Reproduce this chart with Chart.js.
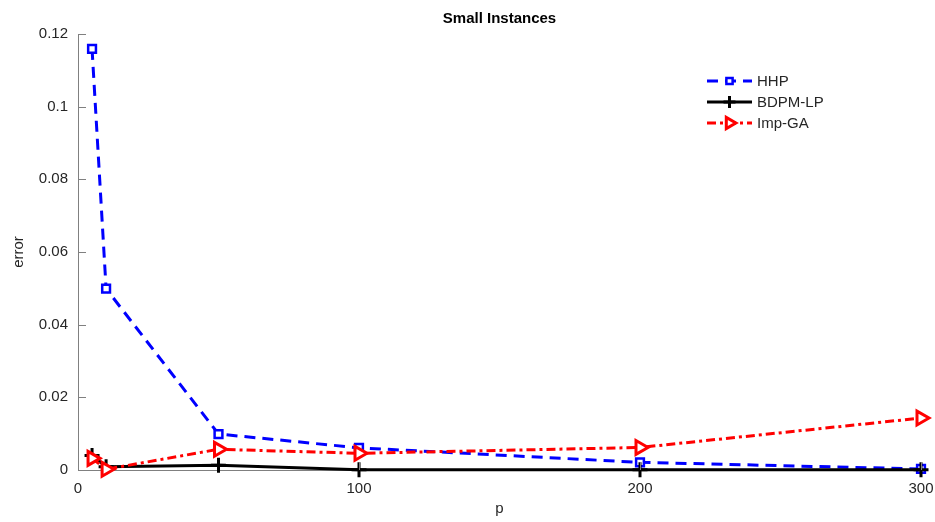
<!DOCTYPE html>
<html>
<head>
<meta charset="utf-8">
<script src="https://cdn.jsdelivr.net/npm/chart.js@4.4.1/dist/chart.umd.min.js"></script>
<style>
  html, body { margin: 0; padding: 0; background: #fff; }
  #chart { display: block; }
</style>
</head>
<body>
<canvas id="chart" width="935" height="522"></canvas>
<script>
// values
const pValues = [5, 10, 50, 100, 200, 300];
const hhpError = [0.1159, 0.0499, 0.0099, 0.0061, 0.0021, 0.0003];
const bdpmError = [0.0040, 0.0009, 0.0013, 0.0001, 0.0001, 0.0001];
const impGaError = [0.0032, 0.0002, 0.0057, 0.0046, 0.0062, 0.0143];
const xTicks = [0, 100, 200, 300];
const yTicks = [0, 0.02, 0.04, 0.06, 0.08, 0.1, 0.12];

const FONT = 'Liberation Sans, Arial, Helvetica, sans-serif';
const AXIS = '#808080';
const TEXT = '#262626';

const toPoints = (ys) => pValues.map((x, i) => ({ x, y: ys[i] }));

// MATLAB style: inward ticks, title, legend with line + marker
const matlabBits = {
  id: 'matlabBits',
  afterDraw(chart) {
    const { ctx, chartArea: a, scales } = chart;
    ctx.save();
    ctx.strokeStyle = AXIS;
    ctx.lineWidth = 1;
    ctx.beginPath();
    xTicks.forEach((t) => {
      const px = Math.round(scales.x.getPixelForValue(t)) + 0.5;
      ctx.moveTo(px, a.bottom); ctx.lineTo(px, a.bottom - 8);
    });
    yTicks.forEach((t) => {
      const py = Math.round(scales.y.getPixelForValue(t)) + 0.5;
      ctx.moveTo(a.left, py); ctx.lineTo(a.left + 8, py);
    });
    ctx.stroke();

    ctx.fillStyle = '#000';
    ctx.font = 'bold 15px ' + FONT;
    ctx.textAlign = 'center';
    ctx.textBaseline = 'middle';
    ctx.fillText('Small Instances', (a.left + a.right) / 2, 19);

    // legend
    const lx0 = 707, lx1 = 752, ly0 = 81, dy = 21;
    ctx.font = '15px ' + FONT;
    ctx.textAlign = 'left';
    chart.data.datasets.forEach((ds, i) => {
      const y = ly0 + i * dy;
      ctx.strokeStyle = ds.borderColor;
      ctx.lineWidth = ds.borderWidth;
      ctx.setLineDash(ds.borderDash || []);
      ctx.beginPath();
      ctx.moveTo(lx0, y); ctx.lineTo(lx1, y);
      ctx.stroke();
      ctx.setLineDash([]);
      ctx.fillStyle = ds.pointBackgroundColor;
      ctx.strokeStyle = ds.pointBorderColor;
      ctx.lineWidth = ds.pointBorderWidth;
      Chart.helpers.drawPoint(ctx, {
        pointStyle: ds.pointStyle, rotation: ds.pointRotation || 0,
        radius: ds.pointRadius * 0.8, borderWidth: ds.pointBorderWidth
      }, (lx0 + lx1) / 2, y);
      ctx.fillStyle = TEXT;
      ctx.fillText(ds.label, lx1 + 5, y + 1);
    });
    ctx.restore();
  }
};

new Chart(document.getElementById('chart'), {
  type: 'line',
  data: {
    datasets: [
      { label: 'HHP', data: toPoints(hhpError), borderColor: '#0000ff', backgroundColor: '#fff',
        borderWidth: 3, borderDash: [11, 7], pointStyle: 'rect', pointRadius: 5.5, clip: false,
        pointBorderColor: '#0000ff', pointBackgroundColor: '#fff', pointBorderWidth: 2.5, order: 2 },
      { label: 'BDPM-LP', data: toPoints(bdpmError), borderColor: '#000000', backgroundColor: '#000',
        borderWidth: 3, pointStyle: 'cross', pointRadius: 7.5, clip: false,
        pointBorderColor: '#000', pointBackgroundColor: '#000', pointBorderWidth: 3, order: 1 },
      { label: 'Imp-GA', data: toPoints(impGaError), borderColor: '#ff0000', backgroundColor: '#fff',
        borderWidth: 3, borderDash: [9, 4, 3, 4], pointStyle: 'triangle', pointRotation: 90, pointRadius: 8, clip: false,
        pointBorderColor: '#ff0000', pointBackgroundColor: '#fff', pointBorderWidth: 3, order: 0 },
    ],
  },
  options: {
    responsive: false,
    animation: false,
    events: [],
    layout: { padding: { left: 0, top: 34, right: 0, bottom: 0 } },
    plugins: { legend: { display: false }, title: { display: false }, tooltip: { enabled: false } },
    elements: { line: { tension: 0 } },
    scales: {
      x: {
        type: 'linear', min: 0, max: 300,
        afterFit: (s) => { s.height = 52; s.paddingRight = 14; },
        afterBuildTicks: (s) => { s.ticks = xTicks.map((v) => ({ value: v })); },
        grid: { display: false, drawTicks: false },
        border: { color: AXIS, width: 1 },
        ticks: { color: TEXT, font: { family: FONT, size: 15 }, padding: 10 },
        title: { display: true, text: 'p', color: TEXT, font: { family: FONT, size: 15 }, padding: { top: 6 } },
      },
      y: {
        min: 0, max: 0.12,
        afterFit: (s) => { s.width = 78; },
        afterBuildTicks: (s) => { s.ticks = yTicks.map((v) => ({ value: v })); },
        grid: { display: false, drawTicks: false },
        border: { color: AXIS, width: 1 },
        ticks: { color: TEXT, font: { family: FONT, size: 15 }, padding: 10,
          callback: (v) => String(+Number(v).toFixed(2)) },
        title: { display: true, text: 'error', color: TEXT, font: { family: FONT, size: 15 }, padding: { top: 10, bottom: 0 } },
      },
    },
  },
  plugins: [matlabBits],
});
</script>
</body>
</html>
